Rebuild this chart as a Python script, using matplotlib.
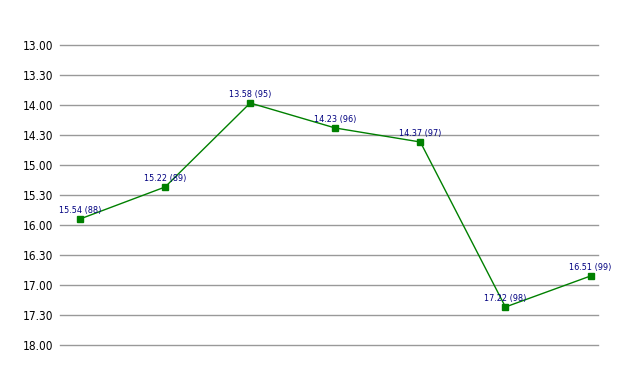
import matplotlib
matplotlib.use("Agg")
import matplotlib.pyplot as plt
from matplotlib.ticker import FixedLocator, FuncFormatter

plt.rcParams['font.family'] = ['DejaVu Sans']
plt.rcParams['font.stretch'] = 'condensed'

# times as mm.ss, and season labels
times = ["15.54", "15.22", "13.58", "14.23", "14.37", "17.22", "16.51"]
seasons = ["88", "89", "95", "96", "97", "98", "99"]
tick_times = ["13.00", "13.30", "14.00", "14.30", "15.00", "15.30",
              "16.00", "16.30", "17.00", "17.30", "18.00"]


def to_min(s):
    m, sec = s.split(".")
    return int(m) + int(sec) / 60.0


def fmt(v, pos=None):
    m = int(v + 1e-9)
    sec = int(round((v - m) * 60))
    return "%d.%02d" % (m, sec)


y = [to_min(t) for t in times]
x = list(range(len(times)))

fig = plt.figure(figsize=(6.38, 3.75), dpi=100)
ax = fig.add_axes([60/638, 30/375, 538/638, 300/375])

ax.plot(x, y, color="#008000", lw=1, marker="s", ms=4.5,
        mec="#008000", mfc="#008000", zorder=3)
for xi, yi, t, s in zip(x, y, times, seasons):
    ax.annotate("%s (%s)" % (t, s), (xi, yi), xytext=(0, 3),
                textcoords="offset points", ha="center", va="bottom",
                fontsize=6.5, color="#000080", zorder=4)

ticks = [to_min(t) for t in tick_times]
ax.yaxis.set_major_locator(FixedLocator(ticks))
ax.yaxis.set_major_formatter(FuncFormatter(fmt))
ax.set_ylim(18, 13)
ax.set_xlim(-0.235, 6.088)
ax.set_xticks([])
ax.grid(axis="y", color="#999999", lw=1)
for gl in ax.get_ygridlines():
    gl.set_clip_on(False)
ax.set_axisbelow(True)
for sp in ax.spines.values():
    sp.set_visible(False)
ax.tick_params(axis="y", length=0, pad=5, labelsize=8.5, labelcolor="#000000")

fig.savefig("out.png", dpi=100)
